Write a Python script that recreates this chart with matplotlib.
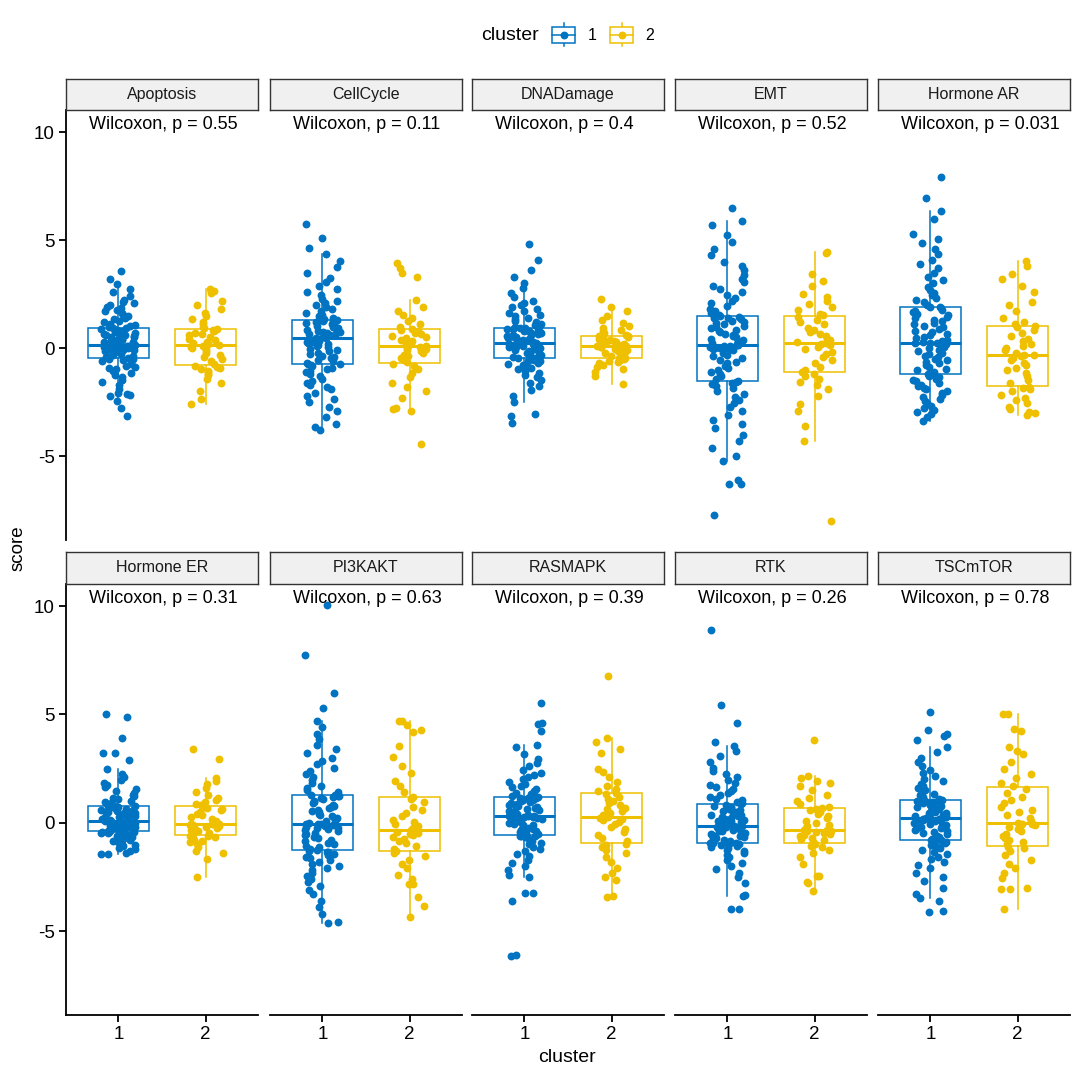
import math
import matplotlib
matplotlib.use("Agg")
import matplotlib.pyplot as plt
from matplotlib.patches import Rectangle

plt.rcParams['font.family'] = ['Liberation Sans', 'DejaVu Sans']
plt.rcParams['axes.unicode_minus'] = False

# ---- data (scores, one list per pathway and cluster) ----
pathways = ["Apoptosis", "CellCycle", "DNADamage", "EMT", "Hormone AR",
            "Hormone ER", "PI3KAKT", "RASMAPK", "RTK", "TSCmTOR"]
p_values = ["0.55", "0.11", "0.4", "0.52", "0.031",
            "0.31", "0.63", "0.39", "0.26", "0.78"]
clusters = ["1", "2"]

apoptosis_c1 = [
    -3.15, -2.75, -2.45, -2.2, -2.15, -2.1, -2.05, -1.9, -1.7, -1.55, -1.45, -1.35, -1.25,
    -1.15, -1.05, -0.95, -0.9, -0.85, -0.8, -0.72, -0.66, -0.6, -0.55, -0.5, -0.48,
    -0.45, -0.42, -0.38, -0.34, -0.3, -0.26, -0.22, -0.18, -0.15, -0.12, -0.09, -0.06, -0.03,
    0.0, 0.02, 0.04, 0.06, 0.08, 0.1, 0.11, 0.12, 0.13, 0.14, 0.15, 0.16,
    0.18, 0.21, 0.24, 0.27, 0.3, 0.33, 0.36, 0.4, 0.43, 0.46, 0.5, 0.53, 0.56,
    0.6, 0.63, 0.66, 0.7, 0.73, 0.76, 0.8, 0.83, 0.86, 0.89, 0.92, 0.94,
    0.97, 1.02, 1.08, 1.14, 1.2, 1.27, 1.33, 1.4, 1.47, 1.55, 1.62, 1.7, 1.78,
    1.85, 1.92, 2.0, 2.08, 2.15, 2.25, 2.4, 2.6, 2.75, 2.95, 3.2, 3.55]
apoptosis_c2 = [
    -2.6, -2.35, -2.0, -1.6, -1.4, -1.25, -1.2, -1.1, -1.05, -0.95, -0.9, -0.85,
    -0.8, -0.72, -0.6, -0.5, -0.4, -0.3, -0.2, -0.12, -0.05, 0.02, 0.08, 0.12, 0.15,
    0.19, 0.25, 0.3, 0.38, 0.45, 0.52, 0.6, 0.66, 0.72, 0.78, 0.84, 0.89,
    0.92, 1.0, 1.1, 1.2, 1.35, 1.5, 1.65, 1.8, 2.0, 2.2, 2.55, 2.65, 2.75]

cellcycle_c1 = [
    -3.8, -3.65, -3.5, -3.2, -2.9, -2.7, -2.5, -2.35, -2.2, -2.05, -1.9, -1.8, -1.7,
    -1.6, -1.5, -1.4, -1.3, -1.2, -1.12, -1.05, -0.98, -0.9, -0.84, -0.79, -0.75,
    -0.72, -0.66, -0.6, -0.54, -0.47, -0.4, -0.34, -0.27, -0.2, -0.14, -0.08, -0.02, 0.04,
    0.09, 0.14, 0.19, 0.23, 0.27, 0.31, 0.35, 0.38, 0.41, 0.44, 0.46, 0.48,
    0.5, 0.53, 0.56, 0.6, 0.63, 0.67, 0.7, 0.74, 0.77, 0.81, 0.85, 0.88, 0.92,
    0.96, 1.0, 1.04, 1.08, 1.12, 1.15, 1.18, 1.21, 1.24, 1.27, 1.29, 1.3,
    1.33, 1.4, 1.48, 1.56, 1.64, 1.72, 1.8, 1.9, 2.0, 2.1, 2.2, 2.3, 2.45,
    2.6, 2.75, 2.9, 3.05, 3.25, 3.5, 3.75, 4.05, 4.35, 4.65, 5.1, 5.75]
cellcycle_c2 = [
    -4.45, -2.9, -2.8, -2.75, -2.3, -2.0, -1.8, -1.6, -1.35, -1.15, -0.95, -0.8,
    -0.72, -0.65, -0.55, -0.45, -0.38, -0.3, -0.22, -0.15, -0.08, -0.02, 0.03, 0.07, 0.1,
    0.12, 0.18, 0.25, 0.32, 0.4, 0.46, 0.52, 0.58, 0.65, 0.72, 0.8, 0.86,
    0.9, 1.0, 1.1, 1.25, 1.4, 1.55, 1.7, 1.9, 2.25, 3.3, 3.5, 3.7, 3.95]

dnadamage_c1 = [
    -3.45, -3.15, -3.05, -2.5, -2.2, -1.95, -1.75, -1.6, -1.45, -1.35, -1.25, -1.15, -1.05,
    -0.97, -0.9, -0.83, -0.77, -0.71, -0.66, -0.61, -0.57, -0.53, -0.5, -0.48, -0.46,
    -0.44, -0.4, -0.36, -0.32, -0.28, -0.24, -0.2, -0.16, -0.12, -0.08, -0.05, -0.02, 0.01,
    0.04, 0.07, 0.09, 0.11, 0.13, 0.15, 0.17, 0.18, 0.19, 0.2, 0.21, 0.22,
    0.24, 0.27, 0.3, 0.33, 0.36, 0.39, 0.42, 0.45, 0.48, 0.51, 0.54, 0.57, 0.6,
    0.63, 0.66, 0.69, 0.72, 0.75, 0.78, 0.81, 0.84, 0.87, 0.9, 0.92, 0.94,
    0.97, 1.02, 1.08, 1.14, 1.2, 1.27, 1.34, 1.41, 1.48, 1.56, 1.64, 1.72, 1.8,
    1.9, 2.0, 2.1, 2.2, 2.35, 2.55, 2.8, 3.0, 3.3, 3.6, 4.1, 4.8]
dnadamage_c2 = [
    -1.66, -1.3, -1.1, -0.95, -0.85, -0.78, -0.7, -0.65, -0.6, -0.55, -0.5, -0.47,
    -0.45, -0.38, -0.3, -0.24, -0.18, -0.12, -0.06, -0.02, 0.02, 0.05, 0.07, 0.09, 0.1,
    0.12, 0.15, 0.19, 0.23, 0.27, 0.31, 0.35, 0.39, 0.43, 0.47, 0.51, 0.55,
    0.58, 0.63, 0.7, 0.78, 0.86, 0.95, 1.05, 1.15, 1.3, 1.5, 1.72, 1.92, 2.3]

emt_c1 = [
    -7.7, -6.3, -6.3, -6.1, -5.2, -5.0, -4.6, -4.3, -4.0, -3.7, -3.5, -3.3, -3.1,
    -2.9, -2.7, -2.55, -2.4, -2.25, -2.1, -1.98, -1.86, -1.76, -1.67, -1.6, -1.54,
    -1.5, -1.4, -1.3, -1.2, -1.1, -1.0, -0.9, -0.8, -0.7, -0.62, -0.54, -0.46, -0.38,
    -0.3, -0.23, -0.16, -0.1, -0.05, -0.01, 0.03, 0.06, 0.08, 0.1, 0.12, 0.13,
    0.15, 0.2, 0.26, 0.32, 0.38, 0.44, 0.5, 0.56, 0.62, 0.68, 0.74, 0.8, 0.86,
    0.92, 0.98, 1.04, 1.1, 1.16, 1.22, 1.28, 1.33, 1.38, 1.42, 1.45, 1.48,
    1.52, 1.62, 1.72, 1.83, 1.95, 2.07, 2.2, 2.33, 2.46, 2.6, 2.75, 2.9, 3.05,
    3.2, 3.4, 3.6, 3.8, 4.0, 4.3, 4.6, 4.9, 5.25, 5.7, 5.87, 6.5]
emt_c2 = [
    -8.0, -4.3, -3.6, -2.9, -2.6, -2.2, -1.9, -1.7, -1.55, -1.4, -1.3, -1.2,
    -1.12, -1.0, -0.85, -0.7, -0.55, -0.4, -0.28, -0.16, -0.05, 0.05, 0.13, 0.19, 0.24,
    0.28, 0.36, 0.45, 0.55, 0.65, 0.75, 0.85, 0.95, 1.1, 1.2, 1.32, 1.45,
    1.52, 1.6, 1.75, 1.9, 2.05, 2.2, 2.35, 2.5, 2.9, 3.1, 3.45, 4.4, 4.45]

hormone_ar_c1 = [
    -3.38, -3.2, -3.05, -2.95, -2.85, -2.75, -2.65, -2.55, -2.45, -2.35, -2.25, -2.15, -2.05,
    -1.97, -1.9, -1.82, -1.75, -1.68, -1.6, -1.53, -1.46, -1.4, -1.33, -1.27, -1.22,
    -1.18, -1.1, -1.02, -0.94, -0.86, -0.78, -0.7, -0.62, -0.55, -0.48, -0.41, -0.34, -0.27,
    -0.2, -0.14, -0.08, -0.02, 0.03, 0.08, 0.12, 0.16, 0.19, 0.22, 0.24, 0.25,
    0.27, 0.33, 0.4, 0.47, 0.54, 0.61, 0.68, 0.75, 0.82, 0.89, 0.96, 1.03, 1.1,
    1.17, 1.24, 1.31, 1.38, 1.45, 1.52, 1.59, 1.66, 1.72, 1.78, 1.84, 1.89,
    1.93, 2.02, 2.12, 2.22, 2.33, 2.45, 2.57, 2.7, 2.85, 3.0, 3.15, 3.3, 3.5,
    3.7, 3.9, 4.1, 4.35, 4.6, 4.85, 5.05, 5.3, 6.0, 6.37, 6.94, 7.9]
hormone_ar_c2 = [
    -3.1, -3.0, -2.95, -2.8, -2.7, -2.55, -2.4, -2.3, -2.15, -2.0, -1.9, -1.82,
    -1.77, -1.6, -1.45, -1.3, -1.15, -1.0, -0.9, -0.78, -0.66, -0.55, -0.45, -0.38, -0.33,
    -0.29, -0.2, -0.1, 0.0, 0.1, 0.2, 0.32, 0.45, 0.58, 0.72, 0.86, 1.0,
    1.05, 1.12, 1.2, 1.4, 1.7, 2.0, 2.15, 2.6, 2.9, 3.2, 3.45, 3.8, 4.02]

hormone_er_c1 = [
    -1.45, -1.42, -1.38, -1.3, -1.22, -1.15, -1.08, -1.02, -0.96, -0.9, -0.85, -0.8, -0.75,
    -0.7, -0.66, -0.62, -0.58, -0.55, -0.52, -0.49, -0.47, -0.45, -0.43, -0.42, -0.41,
    -0.39, -0.36, -0.33, -0.3, -0.27, -0.24, -0.21, -0.18, -0.16, -0.14, -0.12, -0.1, -0.08,
    -0.06, -0.04, -0.02, 0.0, 0.01, 0.02, 0.03, 0.04, 0.05, 0.06, 0.07, 0.075,
    0.085, 0.1, 0.13, 0.16, 0.19, 0.22, 0.25, 0.28, 0.31, 0.34, 0.37, 0.4, 0.43,
    0.46, 0.49, 0.52, 0.55, 0.58, 0.61, 0.64, 0.67, 0.7, 0.72, 0.74, 0.76,
    0.79, 0.84, 0.9, 0.96, 1.02, 1.08, 1.15, 1.22, 1.3, 1.38, 1.46, 1.55, 1.64,
    1.74, 1.85, 1.97, 2.1, 2.25, 2.5, 2.9, 3.2, 3.2, 3.9, 4.9, 5.0]
hormone_er_c2 = [
    -2.5, -1.65, -1.4, -1.3, -1.1, -1.0, -0.9, -0.85, -0.78, -0.72, -0.67, -0.62,
    -0.6, -0.52, -0.46, -0.4, -0.35, -0.3, -0.25, -0.2, -0.16, -0.12, -0.09, -0.07, -0.06,
    -0.05, 0.02, 0.1, 0.18, 0.26, 0.34, 0.42, 0.5, 0.57, 0.63, 0.7, 0.75,
    0.8, 0.88, 0.95, 1.05, 1.15, 1.3, 1.4, 1.6, 1.8, 1.95, 2.05, 2.95, 3.4]

pi3kakt_c1 = [
    -4.64, -4.6, -4.2, -3.9, -3.6, -3.3, -3.1, -2.9, -2.75, -2.6, -2.45, -2.3, -2.2,
    -2.1, -2.0, -1.9, -1.8, -1.72, -1.64, -1.56, -1.49, -1.42, -1.37, -1.33, -1.3,
    -1.27, -1.2, -1.13, -1.06, -0.99, -0.92, -0.85, -0.78, -0.71, -0.64, -0.58, -0.52, -0.46,
    -0.4, -0.35, -0.3, -0.26, -0.22, -0.18, -0.15, -0.12, -0.1, -0.08, -0.07, -0.065,
    -0.055, 0.0, 0.06, 0.12, 0.18, 0.24, 0.3, 0.36, 0.42, 0.48, 0.54, 0.6, 0.66,
    0.72, 0.78, 0.84, 0.9, 0.96, 1.02, 1.08, 1.13, 1.18, 1.22, 1.25, 1.26,
    1.3, 1.4, 1.5, 1.6, 1.72, 1.85, 1.98, 2.12, 2.26, 2.4, 2.55, 2.7, 2.85,
    3.0, 3.2, 3.4, 3.6, 3.85, 4.1, 4.4, 4.7, 5.3, 6.0, 7.75, 10.05]
pi3kakt_c2 = [
    -4.33, -3.83, -3.44, -2.83, -2.83, -2.6, -2.4, -2.1, -1.9, -1.7, -1.55, -1.4,
    -1.32, -1.2, -1.05, -0.95, -0.85, -0.75, -0.65, -0.58, -0.52, -0.47, -0.42, -0.38, -0.35,
    -0.33, -0.25, -0.15, -0.05, 0.05, 0.15, 0.3, 0.45, 0.6, 0.75, 0.95, 1.12,
    1.2, 1.4, 1.7, 1.95, 2.32, 2.6, 3.04, 3.55, 4.19, 4.29, 4.5, 4.7, 4.72]

rasmapk_c1 = [
    -6.13, -6.1, -3.59, -3.25, -3.22, -2.52, -2.4, -2.2, -2.0, -1.85, -1.7, -1.55, -1.42,
    -1.3, -1.2, -1.1, -1.0, -0.92, -0.85, -0.78, -0.72, -0.67, -0.63, -0.6, -0.59,
    -0.57, -0.52, -0.47, -0.42, -0.37, -0.32, -0.27, -0.22, -0.17, -0.12, -0.08, -0.04, 0.0,
    0.04, 0.08, 0.12, 0.15, 0.18, 0.21, 0.24, 0.26, 0.28, 0.29, 0.3, 0.31,
    0.33, 0.36, 0.39, 0.42, 0.45, 0.48, 0.51, 0.55, 0.59, 0.63, 0.67, 0.71, 0.75,
    0.79, 0.83, 0.87, 0.91, 0.95, 0.99, 1.03, 1.07, 1.1, 1.13, 1.15, 1.16,
    1.19, 1.25, 1.32, 1.39, 1.47, 1.55, 1.63, 1.72, 1.81, 1.9, 2.0, 2.1, 2.2,
    2.32, 2.45, 2.6, 2.75, 2.93, 3.16, 3.5, 3.6, 4.24, 4.58, 4.6, 5.55]
rasmapk_c2 = [
    -3.41, -3.4, -2.64, -2.5, -2.3, -2.1, -1.8, -1.6, -1.4, -1.25, -1.12, -1.02,
    -0.98, -0.85, -0.7, -0.55, -0.42, -0.3, -0.18, -0.06, 0.04, 0.12, 0.19, 0.24, 0.27,
    0.31, 0.38, 0.46, 0.54, 0.62, 0.7, 0.8, 0.9, 1.0, 1.1, 1.2, 1.32,
    1.38, 1.45, 1.55, 1.7, 1.9, 2.1, 2.36, 2.5, 3.2, 3.4, 3.75, 3.93, 6.77]

rtk_c1 = [
    -3.98, -3.97, -3.36, -3.35, -2.8, -2.5, -2.3, -2.15, -2.0, -1.85, -1.72, -1.6, -1.5,
    -1.4, -1.32, -1.25, -1.18, -1.12, -1.07, -1.03, -0.99, -0.96, -0.94, -0.93, -0.925,
    -0.91, -0.87, -0.83, -0.79, -0.75, -0.71, -0.67, -0.63, -0.59, -0.55, -0.51, -0.47, -0.43,
    -0.39, -0.36, -0.33, -0.3, -0.27, -0.25, -0.23, -0.21, -0.2, -0.19, -0.18, -0.175,
    -0.165, -0.14, -0.1, -0.06, -0.02, 0.02, 0.06, 0.1, 0.14, 0.18, 0.22, 0.26, 0.3,
    0.34, 0.38, 0.43, 0.48, 0.53, 0.58, 0.63, 0.68, 0.73, 0.78, 0.83, 0.87,
    0.92, 0.98, 1.05, 1.12, 1.2, 1.28, 1.37, 1.46, 1.55, 1.65, 1.75, 1.85, 1.97,
    2.1, 2.25, 2.4, 2.55, 2.8, 3.1, 3.3, 3.55, 3.73, 4.62, 5.44, 8.92]
rtk_c2 = [
    -3.16, -2.8, -2.75, -2.45, -2.44, -1.9, -1.6, -1.4, -1.25, -1.12, -1.05, -1.0,
    -0.95, -0.88, -0.8, -0.74, -0.68, -0.62, -0.56, -0.5, -0.45, -0.41, -0.38, -0.36, -0.35,
    -0.33, -0.25, -0.17, -0.08, 0.0, 0.1, 0.2, 0.3, 0.4, 0.5, 0.58, 0.64,
    0.68, 0.75, 0.85, 1.0, 1.15, 1.3, 1.5, 1.7, 1.85, 1.95, 2.05, 2.17, 3.81]

tscmtor_c1 = [
    -4.1, -4.06, -3.6, -3.47, -3.3, -3.0, -2.7, -2.5, -2.3, -2.1, -1.95, -1.8, -1.68,
    -1.56, -1.45, -1.35, -1.25, -1.16, -1.08, -1.01, -0.95, -0.9, -0.86, -0.83, -0.81,
    -0.79, -0.74, -0.69, -0.64, -0.59, -0.54, -0.49, -0.44, -0.39, -0.34, -0.29, -0.24, -0.19,
    -0.14, -0.1, -0.06, -0.02, 0.02, 0.06, 0.1, 0.13, 0.16, 0.18, 0.2, 0.21,
    0.23, 0.26, 0.29, 0.32, 0.35, 0.38, 0.41, 0.44, 0.47, 0.5, 0.54, 0.58, 0.62,
    0.66, 0.7, 0.74, 0.78, 0.82, 0.86, 0.9, 0.94, 0.97, 1.0, 1.02, 1.03,
    1.06, 1.12, 1.19, 1.26, 1.34, 1.42, 1.5, 1.6, 1.7, 1.8, 1.92, 2.04, 2.16,
    2.3, 2.45, 2.6, 2.8, 3.0, 3.25, 3.5, 3.83, 4.0, 4.1, 4.29, 5.12]
tscmtor_c2 = [
    -3.98, -3.06, -3.05, -3.0, -2.55, -2.3, -2.1, -1.9, -1.7, -1.5, -1.3, -1.18,
    -1.11, -1.0, -0.9, -0.8, -0.7, -0.6, -0.5, -0.4, -0.3, -0.2, -0.12, -0.07, -0.04,
    -0.02, 0.1, 0.22, 0.35, 0.48, 0.6, 0.75, 0.9, 1.05, 1.2, 1.38, 1.58,
    1.68, 1.85, 2.05, 2.25, 2.47, 2.8, 3.16, 3.3, 3.5, 4.24, 4.35, 5.04, 5.04]

scores = [
    (apoptosis_c1, apoptosis_c2), (cellcycle_c1, cellcycle_c2),
    (dnadamage_c1, dnadamage_c2), (emt_c1, emt_c2),
    (hormone_ar_c1, hormone_ar_c2), (hormone_er_c1, hormone_er_c2),
    (pi3kakt_c1, pi3kakt_c2), (rasmapk_c1, rasmapk_c2),
    (rtk_c1, rtk_c2), (tscmtor_c1, tscmtor_c2),
]

colors = ["#0073C2", "#EFC000"]

# ---- layout, in pixels of the 1080x1080 canvas ----
fig = plt.figure(figsize=(10.8, 10.8), dpi=100)
W = 1080.0


def px_axes(left, top, width, height):
    return fig.add_axes([left / W, 1 - (top + height) / W, width / W, height / W])


col_left = [66, 270, 472, 675, 878]
panel_w = 192
rows = [(79, 110, 540), (552, 584, 1015)]  # strip top, panel top, panel bottom


def jitter(n, seed, width=0.2):
    # deterministic, irregular horizontal spread (like geom_jitter)
    out = []
    for i in range(n):
        h = math.sin((i + 1) * 12.9898 + seed * 78.233) * 43758.5453
        out.append(((h - math.floor(h)) - 0.5) * 2 * width)
    return out


for k, name in enumerate(pathways):
    r, c = divmod(k, 5)
    strip_top, top, bottom = rows[r]
    ax = px_axes(col_left[c], top, panel_w, bottom - top)

    data = scores[k]
    for g in range(2):
        col = colors[g]
        ax.boxplot([data[g]], positions=[g + 1], widths=0.7, whis=1.5,
                   showfliers=False, showcaps=False, patch_artist=True,
                   boxprops=dict(facecolor="white", edgecolor=col, linewidth=1.1),
                   whiskerprops=dict(color=col, linewidth=1.1),
                   medianprops=dict(color=col, linewidth=2.2),
                   zorder=2)
    for g in range(2):
        vals = data[g]
        xs = [g + 1 + j for j in jitter(len(vals), seed=k * 2 + g + 1)]
        ax.scatter(xs, vals, s=32, color=colors[g], linewidths=0, zorder=3)

    ax.text(0.66, 10.37, "Wilcoxon, p = " + p_values[k], ha="left", va="center",
            fontsize=13)

    ax.set_xlim(0.4, 2.6)
    ax.set_ylim(-8.87, 11.02)
    for s in ["top", "right", "left", "bottom"]:
        ax.spines[s].set_visible(False)
    ax.spines["left"].set_linewidth(1.3)
    ax.spines["bottom"].set_linewidth(1.3)

    if c == 0:
        ax.spines["left"].set_visible(True)
        ax.set_yticks([-5, 0, 5, 10])
        ax.set_yticklabels(["-5", "0", "5", "10"], fontsize=13.5)
        ax.tick_params(axis="y", length=5, width=1.3, pad=3)
    else:
        ax.set_yticks([])
    if r == 1:
        ax.spines["bottom"].set_visible(True)
        ax.set_xticks([1, 2])
        ax.set_xticklabels(clusters, fontsize=13.5)
        ax.tick_params(axis="x", length=5, width=1.3, pad=3)
    else:
        ax.set_xticks([])

    # facet strip
    sax = px_axes(col_left[c], strip_top, panel_w, top - strip_top)
    sax.set_xticks([])
    sax.set_yticks([])
    sax.set_facecolor("#F0F0F0")
    for s in sax.spines.values():
        s.set_linewidth(1.0)
        s.set_color("#333333")
    sax.text(0.5, 0.5, name, ha="center", va="center", fontsize=11.5,
             color="#1A1A1A", transform=sax.transAxes)

# axis titles
fig.text(18 / W, 1 - 548 / W, "score", rotation=90, ha="center", va="center",
         fontsize=13.5)
fig.text(567 / W, 1 - 1058 / W, "cluster", ha="center", va="center", fontsize=14)

# legend drawn at the top, in pixel space
lax = fig.add_axes([0, 0, 1, 1], zorder=-1)
lax.set_xlim(0, W)
lax.set_ylim(W, 0)
lax.axis("off")
lax.text(510, 35, "cluster", ha="center", va="center", fontsize=14)
for g, (x0, lab_x) in enumerate([(552, 592), (610, 650)]):
    col = colors[g]
    lax.plot([x0 + 11.5, x0 + 11.5], [23, 46], color=col, lw=1.1)
    lax.add_patch(Rectangle((x0, 27), 23, 16, facecolor="white", edgecolor=col,
                            lw=1.1, zorder=2))
    lax.plot([x0, x0 + 23], [35, 35], color=col, lw=1.1, zorder=3)
    lax.scatter([x0 + 11.5], [35], s=32, color=col, linewidths=0, zorder=4)
    lax.text(lab_x, 35, clusters[g], ha="center", va="center", fontsize=11.5)

fig.savefig("out.png", dpi=100)
